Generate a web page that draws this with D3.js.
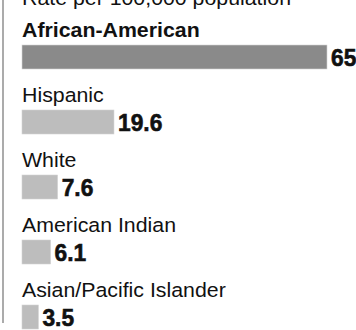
<!DOCTYPE html>
<html>
<head>
<meta charset="utf-8">
<script src="https://cdn.jsdelivr.net/npm/d3@7"></script>
<style>
  html, body { margin: 0; padding: 0; background: #fff; }
  svg { display: block; }
</style>
</head>
<body>
<div id="chart"></div>
<script>
// Chart data.
var categories = ['African-American', 'Hispanic', 'White', 'American Indian', 'Asian/Pacific Islander'];
var values = [65, 19.6, 7.6, 6.1, 3.5];
var valueLabels = ['65', '19.6', '7.6', '6.1', '3.5'];
var title = 'Rate per 100,000 population';

var width = 356, height = 330;
var left = 22;
var labelFont = 'Liberation Sans, Arial, Helvetica, sans-serif';

var svg = d3.select('#chart').append('svg')
    .attr('width', width)
    .attr('height', height);

/*
 * Scales: bar length and row position.
 */
var x = d3.scaleLinear().domain([0, 65]).range([0, 305]);
var y = d3.scaleBand().domain(categories).range([45, 370]);
var barHeight = 24;

/*
 * Left rule.
 */
svg.append('line')
    .attr('x1', 3).attr('x2', 3)
    .attr('y1', 0).attr('y2', 323)
    .attr('stroke', '#8f8f8f')
    .attr('stroke-width', 1.5);

/*
 * Title (cropped at the top edge).
 */
svg.append('text')
    .attr('transform', 'translate(' + left + ',5) scale(1.04,1)')
    .attr('font-family', labelFont)
    .attr('font-size', '20.5px')
    .attr('fill', '#111')
    .text(title);

var rows = svg.selectAll('g.row')
    .data(categories)
    .join('g')
    .attr('class', 'row')
    .attr('transform', d => 'translate(0,' + y(d) + ')');

rows.append('text')
    .attr('transform', 'translate(' + left + ',-8.5) scale(1.04,1)')
    .attr('font-family', labelFont)
    .attr('font-size', '20.5px')
    .attr('font-weight', (d, i) => i === 0 ? 'bold' : 'normal')
    .attr('fill', '#111')
    .text(d => d);

rows.append('rect')
    .attr('x', left)
    .attr('y', 0)
    .attr('width', (d, i) => x(values[i]))
    .attr('height', barHeight)
    .attr('fill', (d, i) => i === 0 ? '#8a8a8a' : '#bdbdbd')
    .attr('stroke', '#d4d4d4')
    .attr('stroke-width', 0.6);

rows.append('text')
    .attr('transform', (d, i) => 'translate(' + (left + x(values[i]) + 4) + ',' + (barHeight - 3.5) + ') scale(0.95,1)')
    .attr('font-family', labelFont)
    .attr('font-size', '24px')
    .attr('font-weight', 'bold')
    .attr('fill', '#111')
    .attr('stroke', '#111')
    .attr('stroke-width', 0.6)
    .text((d, i) => valueLabels[i]);
</script>
</body>
</html>
